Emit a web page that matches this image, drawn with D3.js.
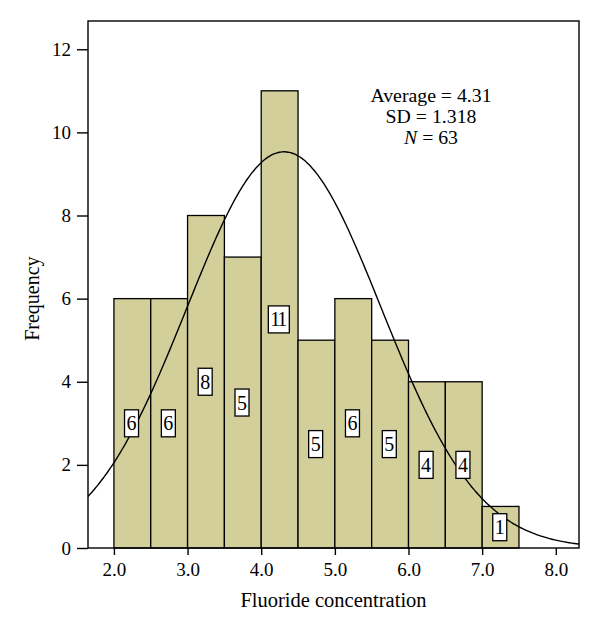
<!DOCTYPE html>
<html>
<head>
<meta charset="utf-8">
<script src="https://cdn.jsdelivr.net/npm/d3@7"></script>
<style>
  html, body { margin: 0; padding: 0; background: #fff; }
  svg { display: block; }
  text { font-family: "Liberation Serif", "DejaVu Serif", serif; fill: #000; }
</style>
</head>
<body>
<div id="chart"></div>
<script>
// ---- data ----
const binStarts = [2.0, 2.5, 3.0, 3.5, 4.0, 4.5, 5.0, 5.5, 6.0, 6.5, 7.0];
const binWidth = 0.5;
const frequencies = [6, 6, 8, 7, 11, 5, 6, 5, 4, 4, 1];
const barLabels = ["6", "6", "8", "5", "11", "5", "6", "5", "4", "4", "1"];
const xTicks = [2, 3, 4, 5, 6, 7, 8];
const yTicks = [0, 2, 4, 6, 8, 10, 12];
const statLines = ["Average = 4.31", "SD = 1.318", "N = 63"];
const average = 4.31, sd = 1.318, n = 63;

// ---- layout ----
const W = 600, H = 634;
const mLeft = 88, mRight = 579, mTop = 21, mBottom = 548;

const svg = d3.select("#chart").append("svg").attr("width", W).attr("height", H);

const x = d3.scaleLinear().domain([1.648, 8.315]).range([mLeft, mRight]);
const y = d3.scaleLinear().domain([0, 12.68]).range([mBottom, mTop]);

// bars
svg.append("g").selectAll("rect").data(binStarts).join("rect")
  .attr("x", d => x(d))
  .attr("y", (d, i) => y(frequencies[i]))
  .attr("width", d => x(d + binWidth) - x(d))
  .attr("height", (d, i) => y(0) - y(frequencies[i]))
  .attr("fill", "#d3cf9b")
  .attr("stroke", "#000")
  .attr("stroke-width", 1.3);

// fitted normal curve (from the stated Average, SD, N)
const curveXs = d3.range(0, 201).map(i => x.domain()[0] + (x.domain()[1] - x.domain()[0]) * i / 200);
const dens = v => n * binWidth * Math.exp(-0.5 * Math.pow((v - average) / sd, 2)) / (sd * Math.sqrt(2 * Math.PI));
svg.append("path")
  .datum(curveXs)
  .attr("d", d3.line().x(v => x(v)).y(v => y(dens(v))).curve(d3.curveBasis))
  .attr("fill", "none")
  .attr("stroke", "#000")
  .attr("stroke-width", 1.4);

// bar labels
const lab = svg.append("g").selectAll("g").data(binStarts).join("g")
  .attr("transform", (d, i) => `translate(${x(d + binWidth / 2) - 0.8},${y(frequencies[i] / 2)})`);
lab.append("rect")
  .attr("x", (d, i) => barLabels[i].length > 1 ? -10.5 : -7)
  .attr("y", -13.5)
  .attr("width", (d, i) => barLabels[i].length > 1 ? 21 : 14)
  .attr("height", 27)
  .attr("fill", "#fff")
  .attr("stroke", "#000")
  .attr("stroke-width", 1.3);
lab.append("text")
  .attr("text-anchor", "middle")
  .attr("y", 7)
  .attr("font-size", 20)
  .attr("textLength", (d, i) => barLabels[i].length > 1 ? 17 : null)
  .text((d, i) => barLabels[i]);

// frame
svg.append("rect")
  .attr("x", mLeft).attr("y", mTop)
  .attr("width", mRight - mLeft).attr("height", mBottom - mTop)
  .attr("fill", "none").attr("stroke", "#000").attr("stroke-width", 1.4);

// axes
const xAxis = svg.append("g").attr("transform", `translate(0,${mBottom})`)
  .call(d3.axisBottom(x).tickValues(xTicks).tickFormat(d3.format(".1f")).tickSize(7).tickPadding(8));
const yAxis = svg.append("g").attr("transform", `translate(${mLeft},0)`)
  .call(d3.axisLeft(y).tickValues(yTicks).tickFormat(d3.format("d")).tickSize(11).tickPadding(6));
[xAxis, yAxis].forEach(a => {
  a.select(".domain").remove();
  a.selectAll(".tick line").attr("stroke", "#000").attr("stroke-width", 1.4);
  a.selectAll(".tick text").attr("font-size", 19).attr("font-family", "Liberation Serif, DejaVu Serif, serif").attr("fill", "#000");
});

// axis titles
svg.append("text")
  .attr("x", (mLeft + mRight) / 2).attr("y", 607)
  .attr("text-anchor", "middle").attr("font-size", 20.5)
  .text("Fluoride concentration");
svg.append("text")
  .attr("transform", `translate(39,${y(6)}) rotate(-90)`)
  .attr("text-anchor", "middle").attr("font-size", 20)
  .text("Frequency");

// stats
const st = svg.append("text").attr("text-anchor", "middle").attr("font-size", 19.8);
statLines.forEach((s, i) => {
  const t = st.append("tspan").attr("x", 431).attr("y", 102 + i * 21);
  if (s.startsWith("N ")) {
    t.append("tspan").attr("font-style", "italic").text("N");
    t.append("tspan").text(s.slice(1));
  } else {
    t.text(s);
  }
});
</script>
</body>
</html>
